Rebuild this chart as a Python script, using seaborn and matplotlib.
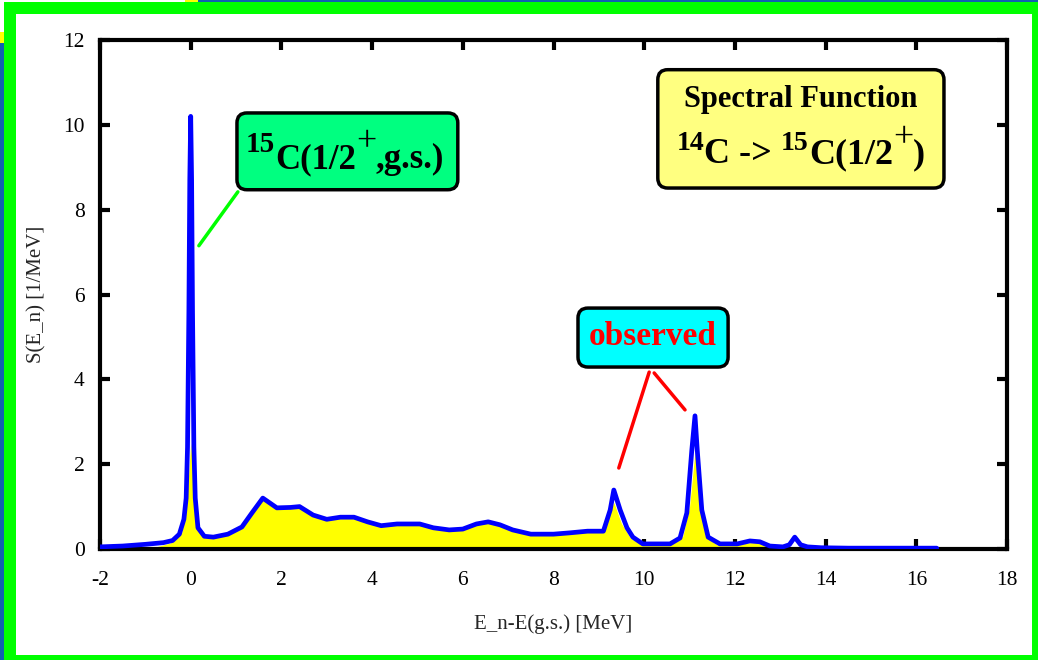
import pandas as pd
import seaborn as sns
import matplotlib.pyplot as plt
from matplotlib.patches import Rectangle, FancyBboxPatch
from matplotlib.transforms import IdentityTransform

# spectral function S(E_n), blue curve
energy = [-2.0, -1.5, -1.0, -0.6, -0.4, -0.25, -0.15, -0.1, -0.07, -0.04, -0.02, 0.0,
          0.02, 0.04, 0.07, 0.1, 0.16, 0.3, 0.5, 0.82, 1.13, 1.35, 1.59, 1.9, 2.2, 2.4,
          2.7, 3.0, 3.3, 3.6, 3.9, 4.2, 4.55, 5.05, 5.35, 5.7, 6.0, 6.3, 6.56, 6.82, 7.1,
          7.5, 8.0, 8.35, 8.75, 9.1, 9.25, 9.33, 9.47, 9.62, 9.75, 9.97, 10.57, 10.79,
          10.94, 11.05, 11.12, 11.17, 11.27, 11.41, 11.67, 12.05, 12.33, 12.55, 12.77,
          13.06, 13.2, 13.32, 13.45, 13.6, 13.9, 14.5, 16.45]
strength = [0.05, 0.07, 0.11, 0.15, 0.2, 0.35, 0.7, 1.2, 2.4, 5.6, 8.7, 10.2,
            8.7, 5.6, 2.4, 1.2, 0.5, 0.3, 0.28, 0.35, 0.52, 0.85, 1.2, 0.97, 0.98, 1.0,
            0.8, 0.7, 0.75, 0.75, 0.64, 0.55, 0.59, 0.59, 0.5, 0.45, 0.47, 0.59, 0.64, 0.57, 0.45,
            0.35, 0.35, 0.38, 0.42, 0.42, 0.92, 1.39, 0.92, 0.5, 0.28, 0.12, 0.12, 0.26,
            0.85, 2.33, 3.14, 2.33, 0.92, 0.28, 0.12, 0.12, 0.19, 0.17, 0.07,
            0.05, 0.1, 0.28, 0.1, 0.05, 0.03, 0.02, 0.02]

# yellow filled area (coarser, lower at the sharp peaks)
fill_energy = [-0.95, -0.45, -0.2, -0.1, 0.0, 0.1, 0.2, 0.36, 0.82, 1.13, 1.35, 1.59,
               1.9, 2.2, 2.4, 2.7, 3.0, 3.3, 3.6, 3.9, 4.2, 4.55, 5.05, 5.35, 5.7, 6.0,
               6.3, 6.56, 6.82, 7.1, 7.5, 8.0, 8.35, 8.75, 9.1, 9.33, 9.5, 9.7, 9.97,
               10.57, 10.85, 11.0, 11.12, 11.22, 11.35, 11.6, 12.05, 12.33, 12.55, 12.75, 12.9]
fill_strength = [0.0, 0.14, 0.38, 0.9, 2.5, 0.9, 0.45, 0.28, 0.35, 0.52, 0.85, 1.2,
                 0.97, 0.98, 1.0, 0.8, 0.7, 0.75, 0.75, 0.64, 0.55, 0.59, 0.59, 0.5, 0.45, 0.47,
                 0.59, 0.64, 0.57, 0.45, 0.35, 0.35, 0.38, 0.42, 0.42, 1.1, 0.6, 0.25, 0.1,
                 0.1, 0.3, 1.0, 2.3, 1.0, 0.3, 0.1, 0.1, 0.15, 0.15, 0.05, 0.0]

x_ticks = [-2, 0, 2, 4, 6, 8, 10, 12, 14, 16, 18]
y_ticks = [0, 2, 4, 6, 8, 10, 12]

W, H = 1038, 660

sns.set_style("ticks")
plt.rcParams['font.family'] = ['Liberation Serif', 'DejaVu Serif']
plt.rcParams['axes.unicode_minus'] = False

fig = plt.figure(figsize=(W / 100, H / 100), dpi=100)
fig.patch.set_facecolor('white')


def frame_rect(x0, y0, x1, y1, color):
    # rectangle given in picture pixels (origin top-left)
    fig.patches.append(Rectangle((x0 / W, 1 - y1 / H), (x1 - x0) / W, (y1 - y0) / H,
                                 transform=fig.transFigure, color=color, lw=0, zorder=0))


# screenshot background + green frame
frame_rect(185, 0, 198, 2, '#ffff00')
frame_rect(198, 0, W, 2, '#1060b0')
frame_rect(0, 32, 4, 43, '#ffff00')
frame_rect(0, 43, 4, H, '#1060b0')
frame_rect(4, 2, W, 14, '#00ff00')
frame_rect(4, 2, 16, 655, '#00ff00')
frame_rect(1032, 2, W, H, '#00ff00')
frame_rect(4, 655, W, H, '#00ff00')

ax = fig.add_axes([100 / W, 111 / H, 907 / W, 509 / H])
ax.set_facecolor('white')

df = pd.DataFrame({'E': energy, 'S': strength})
ax.fill_between(fill_energy, fill_strength, color='#ffff00', lw=0, zorder=2)
sns.lineplot(data=df, x='E', y='S', color='#0000ff', lw=3.4, estimator=None,
             ax=ax, zorder=3)

ax.set_xlim(-2, 18)
ax.set_ylim(0, 12)
ax.set_xticks(x_ticks)
ax.set_yticks(y_ticks)
for s in ax.spines.values():
    s.set_linewidth(3)
    s.set_color('black')
ax.tick_params(direction='in', length=7, width=3, top=True, right=True,
               labelsize=15.5, colors='black')
ax.tick_params(axis='x', pad=16)
ax.tick_params(axis='y', pad=11)
ax.set_xlabel('E_n-E(g.s.) [MeV]', fontsize=15, labelpad=17)
ax.set_ylabel('S(E_n) [1/MeV]', fontsize=15, labelpad=12)


def box(x0, y0, x1, y1, face):
    ax.add_patch(FancyBboxPatch((x0, y0), x1 - x0, y1 - y0,
                                boxstyle="round,pad=0,rounding_size=0.22",
                                mutation_aspect=45.35 / 42.4, fc=face, ec='black',
                                lw=2.5, zorder=5))


box(1.02, 8.47, 5.89, 10.28, '#00ff80')
box(8.54, 4.29, 11.85, 5.68, '#00ffff')
box(10.30, 8.51, 16.61, 11.30, '#ffff80')

# pointer lines
ax.plot([1.04, 0.18], [8.42, 7.15], color='#00ff00', lw=2.5, zorder=4)
ax.plot([10.11, 9.44], [4.17, 1.91], color='#ff0000', lw=2.5, zorder=4)
ax.plot([10.22, 10.90], [4.15, 3.28], color='#ff0000', lw=2.5, zorder=4)

fig.canvas.draw()
renderer = fig.canvas.get_renderer()


def rich(x, y, pieces, color='black', center=None):
    # pieces: (text, size in pt, rise in px, weight); x, y = left/baseline in picture pixels
    arts = []
    cx = x
    for s, size, rise, weight in pieces:
        t = fig.text(cx, H - y + rise, s, fontsize=size, color=color, weight=weight,
                     va='baseline', ha='left', transform=IdentityTransform(), zorder=6)
        cx += t.get_window_extent(renderer).width
        arts.append(t)
    if center is not None:
        shift = center - (x + cx) / 2
        for t in arts:
            px, py = t.get_position()
            t.set_position((px + shift, py))


rich(247, 168, [('15', 21, 16, 'bold'), ('C(1/2', 25, 0, 'bold'), ('+', 26, 17, 'normal'),
                (',g.s.)', 25, 0, 'bold')], center=345)
rich(592, 345, [('observed', 24, 0, 'bold')], color='#ff0000', center=653)
rich(672, 107, [('Spectral Function', 22, 0, 'bold')], center=801)
rich(680, 163, [('14', 20, 13, 'bold'), ('C -> ', 26, 0, 'bold'), ('15', 20, 13, 'bold'),
                ('C(1/2', 26, 0, 'bold'), ('+', 26, 16, 'normal'), (')', 26, 0, 'bold')],
     center=801)

fig.savefig('out.png', dpi=100)
